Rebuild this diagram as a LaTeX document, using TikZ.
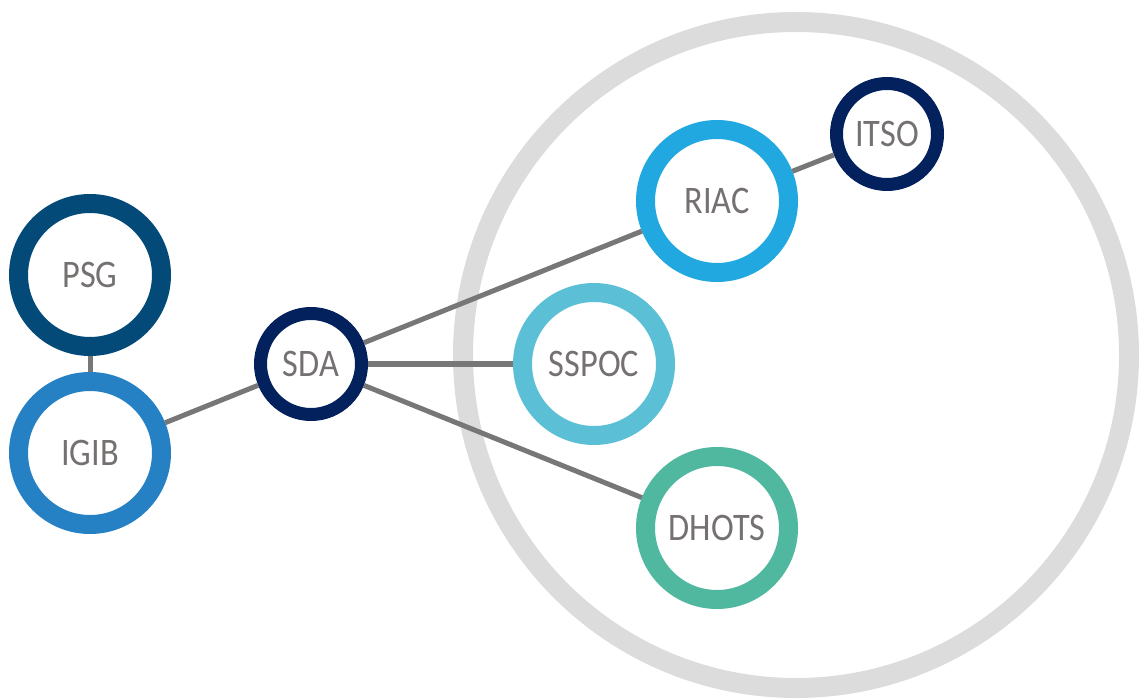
\documentclass[tikz,border=0pt]{standalone}
\usepackage{fontspec}
\setmainfont{Carlito}
\newfontfamily\labelfont[FakeStretch=0.88]{Carlito}
\definecolor{ringgray}{HTML}{DCDCDC}
\definecolor{linkgray}{HTML}{777777}
\definecolor{txtgray}{HTML}{767171}
\definecolor{psgc}{HTML}{034A78}
\definecolor{igibc}{HTML}{2680C4}
\definecolor{navyc}{HTML}{03215C}
\definecolor{riacc}{HTML}{22A8E0}
\definecolor{sspocc}{HTML}{5BC0D5}
\definecolor{dhotsc}{HTML}{50B89E}
\tikzset{
  bignode/.style={circle, draw=#1, line width=19pt, fill=white, minimum size=143pt, inner sep=0pt, text=txtgray, font=\labelfont\fontsize{39}{39}\selectfont},
  smallnode/.style={circle, draw=#1, line width=13pt, fill=white, minimum size=101pt, inner sep=0pt, text=txtgray, font=\labelfont\fontsize{39}{39}\selectfont},
  link/.style={draw=linkgray, line width=5pt},
  bigring/.style={draw=ringgray, line width=20pt}
}
\begin{document}
\begin{tikzpicture}[x=1pt,y=-1pt]
\useasboundingbox (0,0) rectangle (1140,700);
\draw[bigring] (796,355) circle[radius=333pt];
\node[bignode=psgc] (psg) at (90,275) {PSG};
\node[bignode=igibc] (igib) at (90,453) {IGIB};
\node[smallnode=navyc] (sda) at (311,364) {SDA};
\node[bignode=riacc] (riac) at (717,201) {RIAC};
\node[smallnode=navyc] (itso) at (887,134) {ITSO};
\node[bignode=sspocc] (sspoc) at (594,364) {SSPOC};
\node[bignode=dhotsc] (dhots) at (717,528) {DHOTS};
\draw[link] (psg) -- (igib);
\draw[link] (igib) -- (sda);
\draw[link] (sda) -- (riac);
\draw[link] (sda) -- (sspoc);
\draw[link] (sda) -- (dhots);
\draw[link] (riac) -- (itso);
\end{tikzpicture}
\end{document}
